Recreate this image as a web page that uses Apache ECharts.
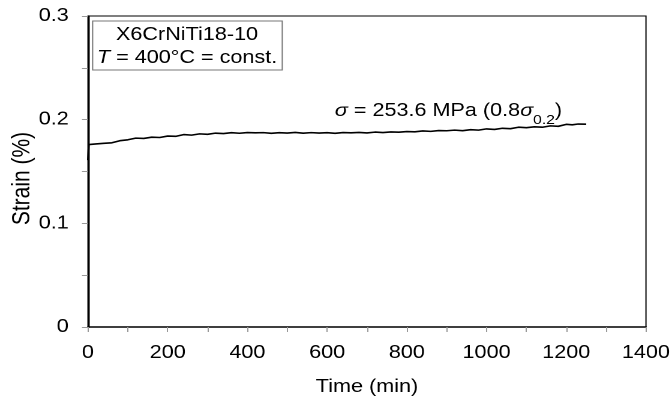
<!DOCTYPE html>
<html>
<head>
<meta charset="utf-8">
<script src="https://cdn.jsdelivr.net/npm/echarts@6/dist/echarts.min.js"></script>
<style>
html,body{margin:0;padding:0;background:#fff;overflow:hidden;}
#wrap{width:672px;height:407px;overflow:hidden;}
#chart{width:560px;height:407px;transform:scaleX(1.2);transform-origin:0 0;}
</style>
</head>
<body>
<div id="wrap"><div id="chart"></div></div>
<script>
// Time (min)
var timeMin = [0, 2, 20, 40, 60, 80, 100, 120, 140, 160, 180, 200, 220, 240, 260, 280, 300, 320, 340, 360, 380,
  400, 420, 440, 460, 480, 500, 520, 540, 560, 580, 600, 620, 640, 660, 680, 700, 720, 740, 760, 780,
  800, 820, 840, 860, 880, 900, 920, 940, 960, 980, 1000, 1020, 1040, 1060, 1080, 1100, 1120, 1140,
  1160, 1180, 1200, 1215, 1230, 1250];
// Strain (%)
var strain = [0.161, 0.176, 0.1766, 0.1772, 0.1777, 0.1797, 0.1806, 0.1822, 0.1819, 0.1831, 0.1828, 0.1842, 0.1839,
  0.1856, 0.1851, 0.1863, 0.1859, 0.1870, 0.1866, 0.1874, 0.1869, 0.1876, 0.1873, 0.1875, 0.1868, 0.1874,
  0.1871, 0.1877, 0.1870, 0.1875, 0.1871, 0.1874, 0.1868, 0.1876, 0.1873, 0.1877, 0.1872, 0.1880, 0.1876,
  0.1882, 0.1879, 0.1885, 0.1883, 0.1891, 0.1887, 0.1895, 0.1893, 0.1899, 0.1894, 0.1903, 0.1899, 0.1911,
  0.1906, 0.1917, 0.1913, 0.1927, 0.1923, 0.1931, 0.1927, 0.1940, 0.1936, 0.1955, 0.1950, 0.1958, 0.1956];
var xTicks = [0, 200, 400, 600, 800, 1000, 1200, 1400];
var yTicks = [0, 0.1, 0.2, 0.3];

var FONT = 'Liberation Sans';
var chart = echarts.init(document.getElementById('chart'), null, {renderer: 'canvas', devicePixelRatio: 2});
var pts = timeMin.map(function (t, i) { return [t, strain[i]]; });

chart.setOption({
  backgroundColor: '#fff',
  animation: false,
  textStyle: {fontFamily: FONT, fontWeight: 'normal'},
  grid: {left: 73.3, right: 21.7, top: 16, bottom: 80, show: true, borderColor: '#000', borderWidth: 1,
         containLabel: false, outerBoundsMode: 'none'},
  title: [{
    left: 76.7, top: 18,
    padding: [5.5, 4, 3.5, 4],
    borderColor: '#777', borderWidth: 1,
    text: '{n|X6CrNiTi18-10}\n{i|T}{n| = 400°C = const.}',
    textStyle: {
      fontWeight: 'normal',
      rich: {
        n: {fontFamily: FONT, fontSize: 18, fontWeight: 'normal', color: '#000', lineHeight: 23, align: 'center'},
        i: {fontFamily: FONT, fontSize: 18, fontWeight: 'normal', fontStyle: 'italic', color: '#000', lineHeight: 23}
      }
    }
  }, {
    left: 279, top: 99,
    padding: 0,
    text: '{i|σ}{n| = 253.6 MPa (0.8}{i|σ}{s|0.2}{n|)}',
    textStyle: {
      fontWeight: 'normal',
      rich: {
        n: {fontFamily: FONT, fontSize: 18, fontWeight: 'normal', color: '#000', lineHeight: 24, verticalAlign: 'middle'},
        i: {fontFamily: FONT, fontSize: 18, fontWeight: 'normal', fontStyle: 'italic', color: '#000', lineHeight: 24, verticalAlign: 'middle'},
        s: {fontFamily: FONT, fontSize: 13, fontWeight: 'normal', color: '#000', lineHeight: 24, verticalAlign: 'bottom', padding: [0, 0, -4, 0]}
      }
    }
  }],
  xAxis: {
    type: 'value', min: 0, max: 1400, interval: 100,
    name: 'Time (min)', nameLocation: 'middle', nameGap: 51, nameMoveOverlap: false,
    nameTextStyle: {fontFamily: FONT, fontSize: 18, color: '#000'},
    axisLine: {show: true, lineStyle: {color: '#000', width: 1.5}},
    axisTick: {show: true, inside: false, length: 5, lineStyle: {color: '#999'}},
    axisLabel: {
      margin: 17, fontFamily: FONT, fontSize: 18, color: '#000',
      formatter: function (v) { return xTicks.indexOf(v) >= 0 ? String(v) : ''; }
    },
    splitLine: {show: false}
  },
  yAxis: {
    type: 'value', min: 0, max: 0.3, interval: 0.05,
    name: 'Strain (%)', nameLocation: 'middle', nameGap: 44, nameMoveOverlap: false,
    nameTextStyle: {fontFamily: FONT, fontSize: 21, color: '#000', padding: [0, 14, 0, 0]},
    axisLine: {show: true, lineStyle: {color: '#000', width: 1.5}},
    axisTick: {show: true, inside: false, length: 5, lineStyle: {color: '#999'}},
    axisLabel: {
      margin: 16, fontFamily: FONT, fontSize: 18, color: '#000',
      formatter: function (v) {
        for (var k = 0; k < yTicks.length; k++) {
          if (Math.abs(yTicks[k] - v) < 1e-9) return String(yTicks[k]);
        }
        return '';
      }
    },
    splitLine: {show: false}
  },
  series: [{
    type: 'line',
    data: pts,
    showSymbol: false,
    smooth: false,
    lineStyle: {color: '#000', width: 1.6},
    clip: true
  }]
});
</script>
</body>
</html>
